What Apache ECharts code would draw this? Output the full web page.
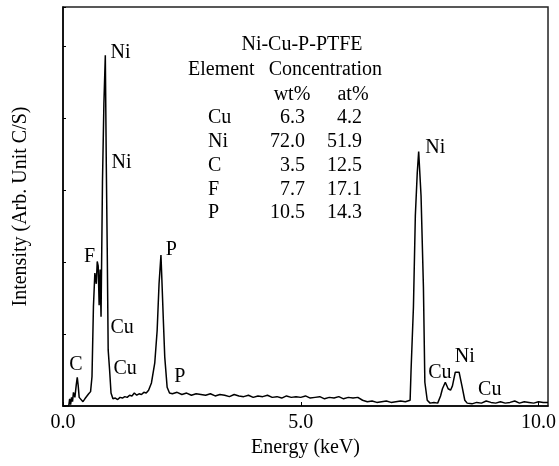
<!DOCTYPE html>
<html>
<head>
<meta charset="utf-8">
<script src="https://cdn.jsdelivr.net/npm/echarts@6/dist/echarts.min.js"></script>
<style>
  html, body { margin: 0; padding: 0; background: #fff; }
  #chart { width: 559px; height: 466px; }
</style>
</head>
<body>
<div id="chart"></div>
<script>
// EDS spectrum, energy in keV, intensity in arbitrary units (1 unit = 1 tick)
const energy = [
  0.00, 0.12, 0.14, 0.16, 0.18, 0.20, 0.22, 0.25, 0.28, 0.30, 0.32, 0.34, 0.38, 0.42, 0.46, 0.50,
  0.54, 0.58, 0.61, 0.64, 0.67, 0.70, 0.72, 0.74, 0.76, 0.78, 0.80, 0.83, 0.86, 0.89, 0.91, 0.93,
  0.95, 0.98, 1.01, 1.05, 1.10, 1.15, 1.20, 1.25, 1.30, 1.35, 1.40, 1.45, 1.50, 1.55, 1.60, 1.65,
  1.70, 1.75, 1.80, 1.86, 1.93, 1.98, 2.02, 2.06, 2.08, 2.11, 2.14, 2.19, 2.24, 2.30, 2.40, 2.50,
  2.60, 2.70, 2.80, 2.90, 3.00, 3.10, 3.20, 3.30, 3.40, 3.50, 3.60, 3.70, 3.80, 3.90, 4.00, 4.10,
  4.20, 4.30, 4.40, 4.50, 4.60, 4.70, 4.80, 4.90, 5.00, 5.10, 5.20, 5.30, 5.40, 5.50, 5.60, 5.70,
  5.80, 5.90, 6.00, 6.10, 6.20, 6.30, 6.40, 6.50, 6.60, 6.70, 6.80, 6.90, 7.00, 7.10, 7.20, 7.30,
  7.32, 7.37, 7.41, 7.45, 7.48, 7.53, 7.58, 7.61, 7.66, 7.72, 7.80, 7.88, 7.94, 7.98, 8.04, 8.10,
  8.15, 8.19, 8.25, 8.33, 8.39, 8.45, 8.50, 8.60, 8.70, 8.80, 8.90, 9.00, 9.10, 9.20, 9.30, 9.40,
  9.50, 9.60, 9.70, 9.80, 9.90, 10.00, 10.10, 10.20
];
const intensity = [
  0.00, 0.00, 0.10, 0.02, 0.12, 0.06, 0.19, 0.12, 0.30, 0.40, 0.28, 0.12, 0.10, 0.06, 0.10, 0.12,
  0.17, 0.20, 0.41, 1.38, 1.85, 1.70, 2.01, 1.95, 1.40, 1.90, 1.24, 3.11, 4.20, 4.88, 3.39, 2.20,
  0.78, 0.50, 0.18, 0.10, 0.11, 0.09, 0.12, 0.11, 0.13, 0.12, 0.15, 0.14, 0.18, 0.15, 0.17, 0.16,
  0.19, 0.18, 0.22, 0.32, 0.60, 1.05, 1.70, 2.10, 1.75, 1.20, 0.68, 0.26, 0.18, 0.17, 0.19, 0.16,
  0.18, 0.15, 0.17, 0.16, 0.15, 0.17, 0.14, 0.16, 0.15, 0.13, 0.16, 0.14, 0.13, 0.15, 0.12, 0.14,
  0.13, 0.15, 0.12, 0.13, 0.11, 0.14, 0.12, 0.13, 0.12, 0.14, 0.11, 0.12, 0.13, 0.10, 0.12, 0.11,
  0.13, 0.10, 0.12, 0.11, 0.12, 0.08, 0.06, 0.07, 0.05, 0.06, 0.07, 0.05, 0.06, 0.07, 0.06, 0.08,
  0.50, 1.38, 2.65, 3.24, 3.54, 2.92, 1.65, 0.33, 0.08, 0.04, 0.05, 0.04, 0.14, 0.24, 0.33, 0.24,
  0.22, 0.28, 0.47, 0.47, 0.28, 0.08, 0.04, 0.03, 0.05, 0.04, 0.07, 0.05, 0.04, 0.06, 0.04, 0.05,
  0.07, 0.04, 0.06, 0.05, 0.04, 0.06, 0.05, 0.05
];

// peak annotations (text left edge at energy, vertical centre at intensity)
const peakNames = ['Ni', 'Ni', 'F', 'Cu', 'Cu', 'C', 'P', 'P', 'Ni', 'Cu', 'Ni', 'Cu'];
const peakLabelE = [1.01, 1.03, 0.45, 1.01, 1.07, 0.14, 2.17, 2.35, 7.63, 7.69, 8.25, 8.74];
const peakLabelI = [4.90, 3.37, 2.07, 1.08, 0.51, 0.57, 2.17, 0.40, 3.58, 0.46, 0.68, 0.22];

// composition table
const sampleName = 'Ni-Cu-P-PTFE';
const tableHeader = ['Element', 'Concentration'];
const unitHeader = ['wt%', 'at%'];
const elements = ['Cu', 'Ni', 'C', 'F', 'P'];
const wtPercent = ['6.3', '72.0', '3.5', '7.7', '10.5'];
const atPercent = ['4.2', '51.9', '12.5', '17.1', '14.3'];

const font = 'Liberation Serif, Times New Roman, serif';
const chart = echarts.init(document.getElementById('chart'));

const txt = (text, x, y, align) => ({
  type: 'text', x: x, y: y,
  style: { text: text, font: '20px ' + font, fill: '#000', align: align, verticalAlign: 'middle' }
});

const table = [txt(sampleName, 302, 45, 'center'),
  txt(tableHeader[0], 188, 70, 'left'), txt(tableHeader[1], 382, 70, 'right'),
  txt(unitHeader[0], 292, 95, 'center'), txt(unitHeader[1], 353, 95, 'center')];
elements.forEach((el, i) => {
  const y = 118 + i * 23.8;
  table.push(txt(el, 208, y, 'left'));
  table.push(txt(wtPercent[i], 305, y, 'right'));
  table.push(txt(atPercent[i], 362, y, 'right'));
});

chart.setOption({
  backgroundColor: '#fff',
  animation: false,
  grid: { left: 63, top: 7, right: 1, bottom: 60, show: true, borderColor: '#222', borderWidth: 1.5 },
  xAxis: {
    type: 'value', min: 0, max: 10.2, interval: 5,
    name: 'Energy (keV)', nameLocation: 'middle', nameGap: 30,
    nameTextStyle: { fontFamily: font, fontSize: 20, color: '#000' },
    axisLine: { lineStyle: { color: '#000', width: 1.5 } },
    axisTick: { inside: true, length: 4, lineStyle: { color: '#000' } },
    axisLabel: {
      fontFamily: font, fontSize: 20, color: '#000', margin: 7, showMaxLabel: false,
      formatter: v => v.toFixed(1)
    },
    splitLine: { show: false }
  },
  yAxis: {
    type: 'value', min: 0, max: 5.55, interval: 1,
    name: 'Intensity (Arb. Unit C/S)', nameLocation: 'middle', nameGap: 32,
    nameTextStyle: { fontFamily: font, fontSize: 20, color: '#000' },
    axisLine: { lineStyle: { color: '#000', width: 1.5 } },
    axisTick: { inside: true, length: 3, lineStyle: { color: '#000' } },
    axisLabel: { show: false },
    splitLine: { show: false }
  },
  graphic: table,
  series: [
    {
      type: 'line',
      data: energy.map((e, i) => [e, intensity[i]]),
      showSymbol: false,
      lineStyle: { color: '#000', width: 1.5 },
      z: 2
    },
    {
      type: 'scatter',
      data: peakNames.map((n, i) => ({ name: n, value: [peakLabelE[i], peakLabelI[i]] })),
      symbolSize: 1,
      itemStyle: { color: 'rgba(0,0,0,0)', opacity: 1 },
      label: {
        show: true, position: [0, 0], align: 'left', verticalAlign: 'middle',
        formatter: p => p.name, fontFamily: font, fontSize: 20, color: '#000', opacity: 1
      },
      z: 3
    }
  ]
});
</script>
</body>
</html>
